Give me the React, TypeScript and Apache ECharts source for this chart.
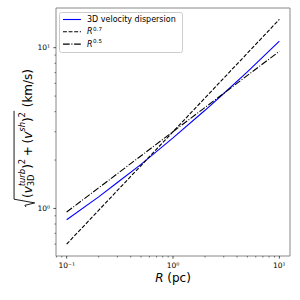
import React, { useEffect, useRef } from "react";
import * as echarts from "echarts";

const FONT = '"DejaVu Sans", sans-serif';

// data
const radius = [0.1, 0.2, 0.3, 0.5, 1, 2, 3, 5, 10];
const velDisp = [0.85, 1.18, 1.45, 1.88, 2.75, 4.08, 5.19, 7.08, 11.0];
const powR = [0.1, 10];
const pow07 = [0.6, 15.0];
const pow05 = [0.95, 9.5];

const xMajorTicks = [0.1, 1, 10];
const xTickLabels = ["10⁻¹", "10⁰", "10¹"];
const xMinorTicks = [0.08, 0.09, 0.2, 0.3, 0.4, 0.5, 0.6, 0.7, 0.8, 0.9, 2, 3, 4, 5, 6, 7, 8, 9];
const yMajorTicks = [1, 10];
const yTickLabels = ["10⁰", "10¹"];
const yMinorTicks = [0.6, 0.7, 0.8, 0.9, 2, 3, 4, 5, 6, 7, 8, 9];

const X_MIN = 0.0794;
const X_MAX = 12.59;
const Y_MIN = 0.506;
const Y_MAX = 17.66;

function measure(text: string, size: number, italic: boolean) {
  const c = document.createElement("canvas").getContext("2d")!;
  c.font = `${italic ? "italic " : ""}${size}px "DejaVu Sans"`;
  return c.measureText(text).width;
}

function buildYLabel() {
  const F = 12;
  const S = 8.4;
  const children: any[] = [];
  const txt = (t: string, x: number, y: number, size: number, italic: boolean) => {
    children.push({
      type: "text",
      x,
      y,
      style: {
        text: t,
        fontSize: size,
        fontFamily: FONT,
        fontStyle: italic ? "italic" : "normal",
        fill: "#000",
        align: "left",
        verticalAlign: "middle",
      },
    });
  };
  let x = 0.75 * F;
  const put = (t: string, size: number, italic: boolean, dy = 0) => {
    txt(t, x, dy, size, italic);
    x += measure(t, size, italic);
  };
  put("(", F, false);
  put("v", F, true);
  const wSup = measure("turb", S, true);
  const wSub = measure("3D", S, false);
  txt("turb", x, -0.42 * F, S, true);
  txt("3D", x, 0.32 * F, S, false);
  x += Math.max(wSup, wSub);
  put(")", F, false);
  put("2", S, false, -0.5 * F);
  x += 0.22 * F;
  put("+", F, false);
  x += 0.22 * F;
  put("(", F, false);
  put("v", F, true);
  put("sh", S, true, -0.42 * F);
  put(")", F, false);
  put("2", S, false, -0.5 * F);
  const end = x + 0.1 * F;
  x = end + 0.3 * F;
  put("(km/s)", F, false);
  const top = -1.12 * F;
  children.push({
    type: "polyline",
    shape: {
      points: [
        [0, -0.12 * F],
        [0.14 * F, -0.22 * F],
        [0.34 * F, 0.6 * F],
        [0.65 * F, top],
        [end, top],
      ],
    },
    style: { stroke: "#000", lineWidth: 0.9, fill: null },
  });
  return { total: x, children };
}

export default function App() {
  const ref = useRef<HTMLDivElement>(null);
  useEffect(() => {
    const chart = echarts.init(ref.current!, null, { renderer: "svg", width: 300, height: 300 });
    const yl = buildYLabel();

    const tickData: any[] = [];
    xMajorTicks.forEach((v) => tickData.push([v, Y_MIN, 0]));
    xMinorTicks.forEach((v) => tickData.push([v, Y_MIN, 1]));
    yMajorTicks.forEach((v) => tickData.push([X_MIN, v, 2]));
    yMinorTicks.forEach((v) => tickData.push([X_MIN, v, 3]));

    const legendLines = [
      { y: 19.5, color: "#0000ff", dash: null as any, label: "3D velocity dispersion", exp: "" },
      { y: 31.8, color: "#000000", dash: [3.9, 1.7], label: "R", exp: "0.7" },
      { y: 44.1, color: "#000000", dash: [6.7, 1.7, 1, 1.7], label: "R", exp: "0.5" },
    ];
    const LF = 8;
    const legendEls: any[] = [
      {
        type: "rect",
        shape: { x: 59.5, y: 12.5, width: 123, height: 40, r: 2 },
        style: { fill: "rgba(255,255,255,0.8)", stroke: "#cccccc", lineWidth: 1 },
      },
    ];
    legendLines.forEach((l) => {
      const st: any = { stroke: l.color, lineWidth: 1.1 };
      if (l.dash) st.lineDash = l.dash;
      legendEls.push({
        type: "line",
        shape: { x1: 63, y1: l.y, x2: 81, y2: l.y },
        style: st,
      });
      const italic = l.exp !== "";
      legendEls.push({
        type: "text",
        x: 87,
        y: l.y,
        style: {
          text: l.label,
          fontSize: LF,
          fontFamily: FONT,
          fontStyle: italic ? "italic" : "normal",
          fill: "#000",
          verticalAlign: "middle",
        },
      });
      if (l.exp) {
        legendEls.push({
          type: "text",
          x: 87 + measure(l.label, LF, true) + 0.5,
          y: l.y - 3,
          style: { text: l.exp, fontSize: 5.6, fontFamily: FONT, fill: "#000", verticalAlign: "middle" },
        });
      }
    });

    const option: any = {
      animation: false,
      backgroundColor: "#fff",
      grid: {
        left: 56,
        right: 10,
        top: 8,
        bottom: 44,
        show: true,
        borderColor: "#888",
        borderWidth: 1,
        backgroundColor: "transparent",
      },
      xAxis: {
        type: "log",
        logBase: 10,
        min: X_MIN,
        max: X_MAX,
        axisLine: { show: false },
        axisTick: { show: false },
        splitLine: { show: false },
        minorTick: { show: false },
        axisLabel: {
          showMinLabel: false,
          showMaxLabel: false,
          fontSize: 7.5,
          fontFamily: FONT,
          color: "#000",
          margin: 5,
          formatter: (v: number) => {
            const i = xMajorTicks.findIndex((t) => Math.abs(Math.log10(t) - Math.log10(v)) < 1e-6);
            return i >= 0 ? xTickLabels[i] : "";
          },
        },
      },
      yAxis: {
        type: "log",
        logBase: 10,
        min: Y_MIN,
        max: Y_MAX,
        axisLine: { show: false },
        axisTick: { show: false },
        splitLine: { show: false },
        minorTick: { show: false },
        axisLabel: {
          showMinLabel: false,
          showMaxLabel: false,
          fontSize: 7.5,
          fontFamily: FONT,
          color: "#000",
          margin: 6,
          formatter: (v: number) => {
            const i = yMajorTicks.findIndex((t) => Math.abs(Math.log10(t) - Math.log10(v)) < 1e-6);
            return i >= 0 ? yTickLabels[i] : "";
          },
        },
      },
      series: [
        {
          type: "line",
          name: "3D velocity dispersion",
          data: radius.map((r, i) => [r, velDisp[i]]),
          symbol: "none",
          lineStyle: { color: "#0000ff", width: 1.1 },
          clip: true,
        },
        {
          type: "line",
          name: "R^0.7",
          data: powR.map((r, i) => [r, pow07[i]]),
          symbol: "none",
          lineStyle: { color: "#000", width: 1.1, type: [3.9, 1.7] },
          clip: true,
        },
        {
          type: "line",
          name: "R^0.5",
          data: powR.map((r, i) => [r, pow05[i]]),
          symbol: "none",
          lineStyle: { color: "#000", width: 1.1, type: [6.7, 1.7, 1, 1.7] },
          clip: true,
        },
        {
          type: "custom",
          coordinateSystem: "cartesian2d",
          clip: false,
          silent: true,
          data: tickData,
          renderItem: (params: any, api: any) => {
            const p = api.coord([api.value(0), api.value(1)]);
            const kind = api.value(2);
            const major = kind === 0 || kind === 2;
            const len = major ? 2.6 : 1.5;
            const shape =
              kind < 2
                ? { x1: p[0], y1: p[1], x2: p[0], y2: p[1] + len }
                : { x1: p[0] - len, y1: p[1], x2: p[0], y2: p[1] };
            return {
              type: "line",
              shape,
              style: { stroke: "#222", lineWidth: major ? 0.8 : 0.6 },
            };
          },
        },
      ],
      graphic: [
        {
          type: "group",
          x: 27.5,
          y: 207,
          rotation: Math.PI / 2,
          children: yl.children,
        },
        {
          type: "text",
          x: 173,
          y: 278,
          style: {
            text: "{i|R} (pc)",
            fontSize: 12,
            fontFamily: FONT,
            fill: "#000",
            align: "center",
            verticalAlign: "middle",
            rich: { i: { fontStyle: "italic", fontSize: 12, fontFamily: FONT } },
          },
        },
        ...legendEls,
      ],
    };
    chart.setOption(option);
    return () => chart.dispose();
  }, []);
  return <div ref={ref} style={{ position: "absolute", left: 0, top: 0, width: 300, height: 300 }} />;
}
